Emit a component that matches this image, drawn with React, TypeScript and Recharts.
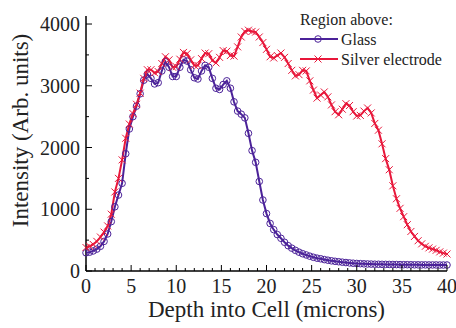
import React from "react";
import { LineChart, Line, XAxis, YAxis, Legend, Label } from "recharts";

const depth: number[] = [
  0, 0.4, 0.8, 1.2, 1.6, 2.0, 2.4, 2.8, 3.2, 3.6, 4.0, 4.4, 4.8, 5.2, 5.6, 6.0, 6.4, 6.8, 7.2, 7.6,
  8.0, 8.4, 8.8, 9.2, 9.6, 10.0, 10.4, 10.8, 11.2, 11.6, 12.0, 12.4, 12.8, 13.2, 13.6, 14.0, 14.4, 14.8, 15.2, 15.6,
  16.0, 16.4, 16.8, 17.2, 17.6, 18.0, 18.4, 18.8, 19.2, 19.6, 20.0, 20.4, 20.8, 21.2, 21.6, 22.0, 22.4, 22.8, 23.2, 23.6,
  24.0, 24.4, 24.8, 25.2, 25.6, 26.0, 26.4, 26.8, 27.2, 27.6, 28.0, 28.4, 28.8, 29.2, 29.6, 30.0, 30.4, 30.8, 31.2, 31.6,
  32.0, 32.4, 32.8, 33.2, 33.6, 34.0, 34.4, 34.8, 35.2, 35.6, 36.0, 36.4, 36.8, 37.2, 37.6, 38.0, 38.4, 38.8, 39.2, 39.6,
  40.0,
];

const glass: number[] = [
  295, 305, 325, 355, 400, 480, 600, 800, 1040, 1230, 1420, 1900, 2300, 2500, 2670, 2870, 3090, 3190, 3120, 3030,
  3050, 3240, 3390, 3300, 3150, 3150, 3300, 3420, 3400, 3260, 3130, 3110, 3240, 3330, 3300, 3120, 2960, 2940, 3020, 3080,
  2960, 2740, 2590, 2540, 2480, 2230, 1950, 1760, 1450, 1150, 930, 770, 670, 590, 530, 465, 410, 370, 335, 305,
  280, 260, 240, 222, 208, 198, 185, 175, 165, 157, 150, 143, 137, 131, 126, 122, 119, 116, 114, 112,
  110, 109, 108, 107, 106, 105, 104, 103, 102, 102, 101, 100, 100, 99, 99, 98, 98, 98, 97, 97,
  97,
];

const silver: number[] = [
  380, 400, 430, 480, 550, 630, 730, 920, 1280, 1500, 1800, 2150, 2380, 2550, 2700, 2880, 3120, 3260, 3260, 3210,
  3230, 3360, 3470, 3420, 3300, 3310, 3430, 3540, 3520, 3420, 3330, 3330, 3440, 3530, 3520, 3410, 3370, 3460, 3570, 3560,
  3490, 3480, 3630, 3790, 3880, 3900, 3880, 3870, 3790, 3700, 3590, 3470, 3450, 3490, 3530, 3460, 3360, 3250, 3160, 3180,
  3250, 3240, 3080, 2930, 2800, 2850, 2900, 2820, 2690, 2580, 2530, 2620, 2710, 2680, 2580, 2510, 2520, 2590, 2640, 2560,
  2390, 2280, 2060, 1820, 1640, 1380, 1170, 1015, 880, 750, 640, 560, 490, 440, 400, 375, 355, 335, 310, 290,
  275,
];

const xTicks: number[] = Array.from({ length: 41 }, (_, i) => i);
const yTicks: number[] = Array.from({ length: 9 }, (_, i) => i * 500);

const seriesNames = ["Glass", "Silver electrode"];
const legendTitle = "Region above:";
const xTitle = "Depth into Cell (microns)";
const yTitle = "Intensity (Arb. units)";

const GLASS = "#4b2299";
const SILVER = "#e8173a";
const FONT = "'Liberation Serif', 'Times New Roman', serif";

const data = depth.map((d, i) => ({ depth: d, glass: glass[i], silver: silver[i] }));

const BottomTick = (p: any) => {
  const v = p.payload.value;
  const major = v % 5 === 0;
  return (
    <g>
      <line x1={p.x} x2={p.x} y1={p.y} y2={p.y - (major ? 6 : 3)} stroke="#000" strokeWidth={1} />
      {major && (
        <text x={p.x} y={p.y + 22} textAnchor="middle" fontSize={20} fontFamily={FONT} fill="#222">
          {v}
        </text>
      )}
    </g>
  );
};

const TopTick = (p: any) => {
  const v = p.payload.value;
  const major = v % 5 === 0;
  return <line x1={p.x} x2={p.x} y1={p.y} y2={p.y + (major ? 6 : 3)} stroke="#000" strokeWidth={1} />;
};

const LeftTick = (p: any) => {
  const v = p.payload.value;
  const major = v % 1000 === 0;
  return (
    <g>
      <line x1={p.x} x2={p.x + (major ? 6 : 3)} y1={p.y} y2={p.y} stroke="#000" strokeWidth={1} />
      {major && (
        <text x={p.x - 6} y={p.y + 7} textAnchor="end" fontSize={20} fontFamily={FONT} fill="#222">
          {v}
        </text>
      )}
    </g>
  );
};

const RightTick = (p: any) => {
  const v = p.payload.value;
  const major = v % 1000 === 0;
  return <line x1={p.x} x2={p.x - (major ? 6 : 3)} y1={p.y} y2={p.y} stroke="#000" strokeWidth={1} />;
};

const CircleDot = (p: any) => {
  if (p.cx == null || p.cy == null) return <g key={p.key} />;
  return <circle key={p.key} cx={p.cx} cy={p.cy} r={3.3} fill="none" stroke={GLASS} strokeWidth={1} />;
};

const CrossDot = (p: any) => {
  if (p.cx == null || p.cy == null) return <g key={p.key} />;
  const s = 3.5;
  return (
    <g key={p.key}>
      <line x1={p.cx - s} y1={p.cy - s} x2={p.cx + s} y2={p.cy + s} stroke={SILVER} strokeWidth={1} />
      <line x1={p.cx - s} y1={p.cy + s} x2={p.cx + s} y2={p.cy - s} stroke={SILVER} strokeWidth={1} />
    </g>
  );
};

const LegendBox = () => (
  <svg width={160} height={70} style={{ display: "block", overflow: "visible" }}>
    <text x={4} y={17} fontSize={16} fontFamily={FONT} fill="#222">{legendTitle}</text>
    <line x1={4} x2={42} y1={31} y2={31} stroke={GLASS} strokeWidth={2} />
    <circle cx={22} cy={31} r={3.3} fill="none" stroke={GLASS} strokeWidth={1} />
    <text x={45} y={37} fontSize={16} fontFamily={FONT} fill="#222">{seriesNames[0]}</text>
    <line x1={4} x2={42} y1={51} y2={51} stroke={SILVER} strokeWidth={2} />
    <line x1={18.5} y1={47.5} x2={25.5} y2={54.5} stroke={SILVER} strokeWidth={1} />
    <line x1={18.5} y1={54.5} x2={25.5} y2={47.5} stroke={SILVER} strokeWidth={1} />
    <text x={45} y={57} fontSize={16} fontFamily={FONT} fill="#222">{seriesNames[1]}</text>
  </svg>
);

export default function App() {
  return (
    <div style={{ position: "absolute", left: 0, top: 0, width: 456, height: 328, background: "#fff" }}>
      <LineChart width={456} height={328} data={data} margin={{ top: 16, right: 9, left: 0, bottom: 0 }}>
        <XAxis
          xAxisId="b"
          dataKey="depth"
          type="number"
          domain={[0, 40]}
          ticks={xTicks}
          interval={0}
          height={57}
          tickSize={0}
          tickMargin={0}
          tickLine={false}
          axisLine={{ stroke: "#000", strokeWidth: 1.5 }}
          tick={BottomTick}
        >
          <Label
            value={xTitle}
            position="insideBottom"
            offset={11}
            style={{ fontSize: 23, fontFamily: FONT, fill: "#222" }}
          />
        </XAxis>
        <XAxis
          xAxisId="t"
          orientation="top"
          dataKey="depth"
          type="number"
          domain={[0, 40]}
          ticks={xTicks}
          interval={0}
          height={0}
          tickSize={0}
          tickMargin={0}
          tickLine={false}
          axisLine={{ stroke: "#000", strokeWidth: 1.5 }}
          tick={TopTick}
        />
        <YAxis
          yAxisId="l"
          type="number"
          domain={[0, 4130]}
          ticks={yTicks}
          interval={0}
          width={86}
          tickSize={0}
          tickMargin={0}
          tickLine={false}
          axisLine={{ stroke: "#000", strokeWidth: 1.5 }}
          tick={LeftTick}
        >
          <Label
            content={(props: any) => {
              const vb = props.viewBox;
              const cx = vb.x + 28;
              const cy = vb.y + vb.height / 2 - 13;
              return (
                <text
                  x={cx}
                  y={cy}
                  transform={`rotate(-90 ${cx} ${cy})`}
                  textAnchor="middle"
                  fontSize={23}
                  fontFamily={FONT}
                  fill="#222"
                >
                  {yTitle}
                </text>
              );
            }}
          />
        </YAxis>
        <YAxis
          yAxisId="r"
          orientation="right"
          type="number"
          domain={[0, 4130]}
          ticks={yTicks}
          interval={0}
          width={0}
          tickSize={0}
          tickMargin={0}
          tickLine={false}
          axisLine={{ stroke: "#000", strokeWidth: 1.5 }}
          tick={RightTick}
        />
        <Legend
          layout="horizontal"
          verticalAlign="middle"
          align="center"
          wrapperStyle={{ position: "absolute", left: 296, top: 8, width: 160, height: 70 }}
          content={LegendBox}
        />
        <Line
          xAxisId="b"
          yAxisId="l"
          type="linear"
          dataKey="glass"
          name={seriesNames[0]}
          stroke={GLASS}
          strokeWidth={2}
          dot={CircleDot}
          isAnimationActive={false}
        />
        <Line
          xAxisId="b"
          yAxisId="l"
          type="linear"
          dataKey="silver"
          name={seriesNames[1]}
          stroke={SILVER}
          strokeWidth={2}
          dot={CrossDot}
          isAnimationActive={false}
        />
      </LineChart>
    </div>
  );
}
